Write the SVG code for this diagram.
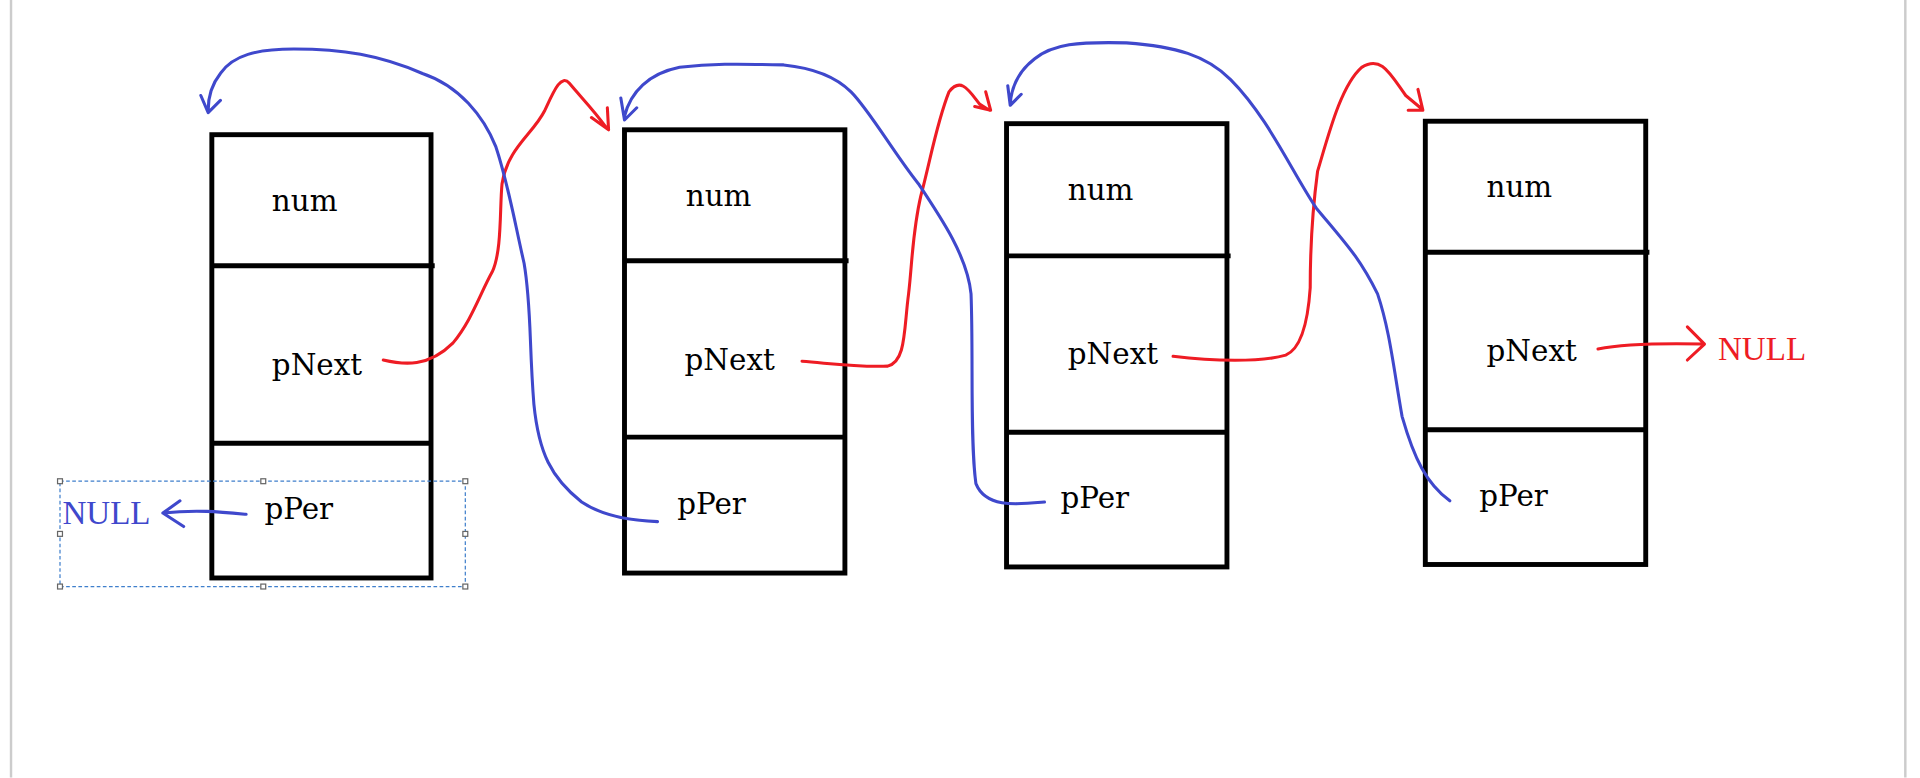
<svg xmlns="http://www.w3.org/2000/svg" width="1920" height="778" viewBox="0 0 1920 778">
<style>
.box{fill:none;stroke:#000;stroke-width:4}
.t{font-family:"DejaVu Serif","Liberation Serif",serif;font-size:24px;fill:#000}
.n{font-family:"Liberation Serif",serif;font-size:27px}
.r{fill:none;stroke:#ee1c24;stroke-width:2.5;stroke-linecap:round;stroke-linejoin:round}
.b{fill:none;stroke:#3f48cc;stroke-width:2.5;stroke-linecap:round;stroke-linejoin:round}
</style>
<rect width="1920" height="778" fill="#fff"/>
<g transform="scale(1.2245)">
<line x1="9" y1="0" x2="9" y2="635" stroke="#ccc" stroke-width="2"/>
<line x1="1556" y1="0" x2="1556" y2="635" stroke="#ccc" stroke-width="2"/>
<g id="node1"><rect class="box" x="173" y="110" width="179" height="362"/><line class="box" x1="173" y1="217" x2="355" y2="217"/><line class="box" x1="173" y1="362" x2="352" y2="362"/>
<text class="t" x="222" y="172">num</text><text class="t" x="222" y="306">pNext</text><text class="t" x="216" y="424">pPer</text></g>
<g id="node2"><rect class="box" x="510" y="106" width="180" height="362"/><line class="box" x1="510" y1="213" x2="693" y2="213"/><line class="box" x1="510" y1="357" x2="690" y2="357"/>
<text class="t" x="560" y="168">num</text><text class="t" x="559" y="302">pNext</text><text class="t" x="553" y="420">pPer</text></g>
<g id="node3"><rect class="box" x="822" y="101" width="180" height="362"/><line class="box" x1="822" y1="209" x2="1005" y2="209"/><line class="box" x1="822" y1="353" x2="1002" y2="353"/>
<text class="t" x="872" y="163">num</text><text class="t" x="872" y="297">pNext</text><text class="t" x="866" y="415">pPer</text></g>
<g id="node4"><rect class="box" x="1164" y="99" width="180" height="362"/><line class="box" x1="1164" y1="206" x2="1347" y2="206"/><line class="box" x1="1164" y1="351" x2="1344" y2="351"/>
<text class="t" x="1214" y="161">num</text><text class="t" x="1214" y="295">pNext</text><text class="t" x="1208" y="413">pPer</text></g>
<g id="sel"><rect x="49" y="393" width="331" height="86" fill="none" stroke="#3f7fcc" stroke-width="1" stroke-dasharray="3,2"/>
<g fill="#fff" stroke="#666" stroke-width="1"><rect x="47" y="391" width="4" height="4"/><rect x="213" y="391" width="4" height="4"/><rect x="378" y="391" width="4" height="4"/><rect x="47" y="434" width="4" height="4"/><rect x="378" y="434" width="4" height="4"/><rect x="47" y="477" width="4" height="4"/><rect x="213" y="477" width="4" height="4"/><rect x="378" y="477" width="4" height="4"/></g>
<text class="n" x="51" y="428" fill="#3f48cc">NULL</text></g>
<text class="n" x="1403" y="294" fill="#ee1c24">NULL</text>
<g id="connectors">
<path class="r" d="M313 294 C330 298 350 300 370 280 C385 262 392 240 402 222 C410 205 408 170 410 150 C415 120 435 110 445 90 C452 75 458 60 465 68 C475 80 485 90 495 104 M483 96 L497 106 L496 88"/>
<path class="r" d="M655 295 C680 297 700 300 725 299 C740 295 738 270 742 240 C745 215 745 190 752 160 C760 130 765 100 775 75 C785 62 792 75 800 85 L808 90 M796 87 L809 90 L805 75"/>
<path class="r" d="M958 291 C990 295 1030 296 1050 290 C1062 285 1068 265 1070 235 C1070 200 1072 170 1076 140 C1085 110 1095 70 1112 55 C1128 45 1135 60 1148 78 L1160 88 M1150 90 L1162 90 L1158 73"/>
<path class="r" d="M1305 285 C1320 282 1340 280 1390 281 M1378 267 L1392 281 L1378 294"/>
<path class="b" d="M537 426 C510 425 490 420 475 410 C450 390 440 370 436 330 C432 280 434 250 428 215 C420 180 415 150 405 120 C395 95 375 70 345 60 C310 45 280 40 240 40 C210 40 190 45 180 60 C172 70 170 80 170 90 M164 78 L170 92 L180 82"/>
<path class="b" d="M853 410 C830 412 805 415 797 395 C792 360 795 290 793 240 C790 210 770 180 750 150 C730 125 710 90 695 75 C680 60 660 55 640 53 C600 52 580 52 555 55 C530 60 515 75 510 95 M507 80 L510 98 L520 88"/>
<path class="b" d="M1184 409 C1165 395 1155 375 1145 340 C1138 300 1135 270 1125 240 C1110 210 1100 200 1075 170 C1055 140 1035 95 1005 65 C985 45 960 38 920 35 C880 34 860 36 845 48 C832 58 826 70 825 85 M823 70 L825 86 L834 77"/>
<path class="b" d="M201 420 C180 418 160 416 133 419 M147 409 L133 419 L150 430"/>
</g>
</g>
</svg>
